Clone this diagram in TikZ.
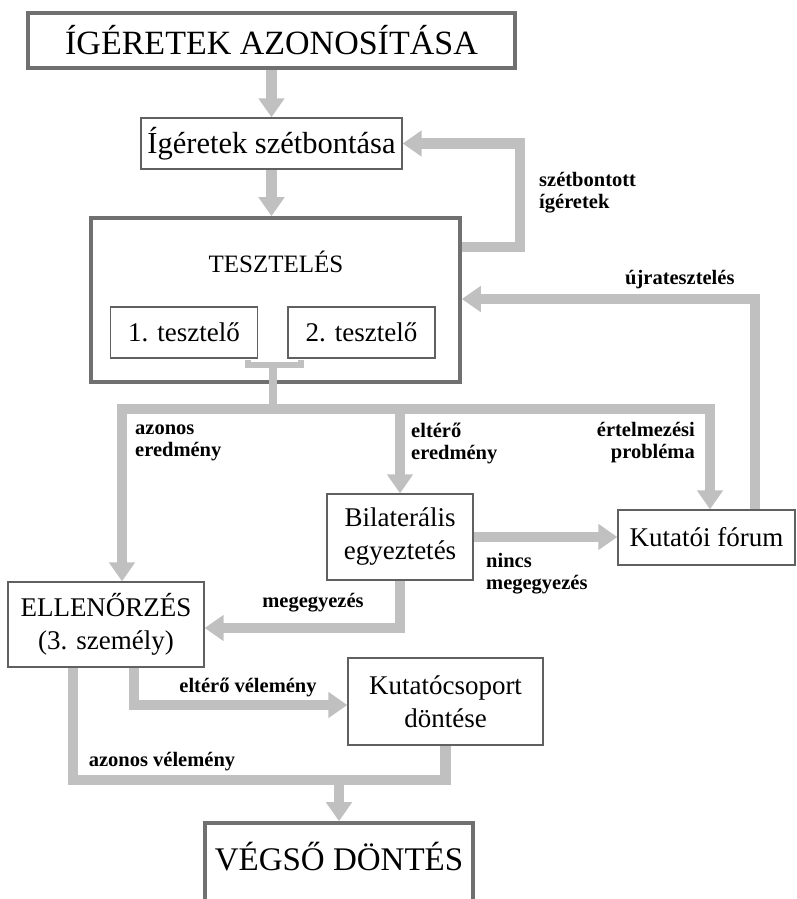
\documentclass[tikz,border=0pt]{standalone}
\usepackage{fontspec}
\setmainfont{Liberation Serif}
\usetikzlibrary{arrows.meta,positioning}
\definecolor{FrameG}{RGB}{112,112,112}
\definecolor{LineG} {RGB}{96, 96, 96}
\definecolor{FlowG} {RGB}{192,192,192}

\begin{document}
\begin{tikzpicture}[x=1pt,y=-1pt,
    box/.style={draw=LineG,line width=1.3pt,fill=white,inner sep=0pt,align=center,
      font=\fontsize{27}{33}\selectfont},
    bigbox/.style={box,draw=FrameG,line width=3.6pt},
    lbl/.style={inner sep=0pt,font=\bfseries\fontsize{20.5}{22}\selectfont},
    flow/.style={draw=FlowG,line width=10.5pt},
    fat/.style={flow,-{Triangle[length=19pt,width=25pt]}}]
  \useasboundingbox (0,0) rectangle (797,899);

  \node[bigbox,minimum width=487pt,minimum height=55pt,font=\fontsize{34}{40}\selectfont] (ident) at (271.5,40.5) {ÍGÉRETEK AZONOSÍTÁSA};
  \node[box,minimum width=261pt,minimum height=51pt,font=\fontsize{30.5}{33}\selectfont] (split) at (271.5,143.5) {Ígéretek szétbontása};
  \node[bigbox,minimum width=369pt,minimum height=164pt] (test) at (275.5,300) {};
  \node[font=\fontsize{25}{30}\selectfont] (testlbl) at (276,262) {TESZTELÉS};
  \foreach \i/\x in {1/184,2/361.5}
    \node[box,minimum width=147pt,minimum height=51pt] (t\i) at (\x,332.5) {\i. tesztelő};
  \node[box,minimum width=146pt,minimum height=86pt] (bil) at (400,537) {Bilaterális\\egyeztetés};
  \node[box,minimum width=177pt,minimum height=55pt] (forum) at (706.5,537.5) {Kutatói fórum};
  \node[box,minimum width=196pt,minimum height=85pt] (check) at (106,624.5) {ELLENŐRZÉS\\(3. személy)};
  \node[box,minimum width=195pt,minimum height=87pt] (group) at (445.5,701.5) {Kutatócsoport\\döntése};
  \node[bigbox,minimum width=268pt,minimum height=86pt,text depth=20pt,font=\fontsize{33}{36}\selectfont] (final) at (339,866) {VÉGSŐ DÖNTÉS};

  \coordinate (bk) at (273,365);
  \coordinate (fork) at (273,409);
  \coordinate (sR) at (520,247);
  \coordinate (uR) at (755,299);
  \coordinate (jn) at (339,780);

  \draw[fat] (ident.south) -- (split.north);
  \draw[fat] (split.south) -- (split.south |- test.north);
  \draw[fat] (test.east |- sR) -- (sR) |- (split.east);
  \draw[fat] (uR |- forum.north) -- (uR) -- (test.east |- uR);
  \draw[flow,line width=6pt] ([xshift=64pt,yshift=-1pt]t1.south) |- (bk) -| ([xshift=-61pt,yshift=-1pt]t2.south);
  \draw[flow,line width=8pt] (bk) -- (fork);
  \draw[fat] (fork) -| ([xshift=16pt]check.north);
  \draw[fat] (fork) -| ([xshift=3.5pt]forum.north);
  \draw[fat] (bil.north |- fork) -- (bil.north);
  \draw[fat] (bil.east) -- (bil.east -| forum.west);
  \draw[fat] (bil.south) |- ([yshift=-3.5pt]check.east);
  \draw[fat] ([xshift=28pt]check.south) |- ([yshift=-3.5pt]group.west);
  \draw[flow] ([xshift=-33pt]check.south) |- (jn) -| (group.south);
  \draw[fat] (jn) -- (jn |- final.north);

  \node[lbl,anchor=west,align=left] (lSplit) at (539,193) {szétbontott\\ígéretek};
  \node[lbl,anchor=west] (lRetest) at (625,280) {újratesztelés};
  \node[lbl,anchor=west,align=left] (lSame) at (135,443) {azonos\\eredmény};
  \node[lbl,anchor=west,align=left] (lDiff) at (411,443) {eltérő\\eredmény};
  \node[lbl,anchor=east,align=right] (lInterp) at (695,443) {értelmezési\\probléma};
  \node[lbl,anchor=west,align=left] (lNoAgr) at (486,574) {nincs\\megegyezés};
  \node[lbl] (lAgr) at (313,603) {megegyezés};
  \node[lbl] (lDiffOp) at (248,687) {eltérő vélemény};
  \node[lbl] (lSameOp) at (162,762) {azonos vélemény};
\end{tikzpicture}
\end{document}
